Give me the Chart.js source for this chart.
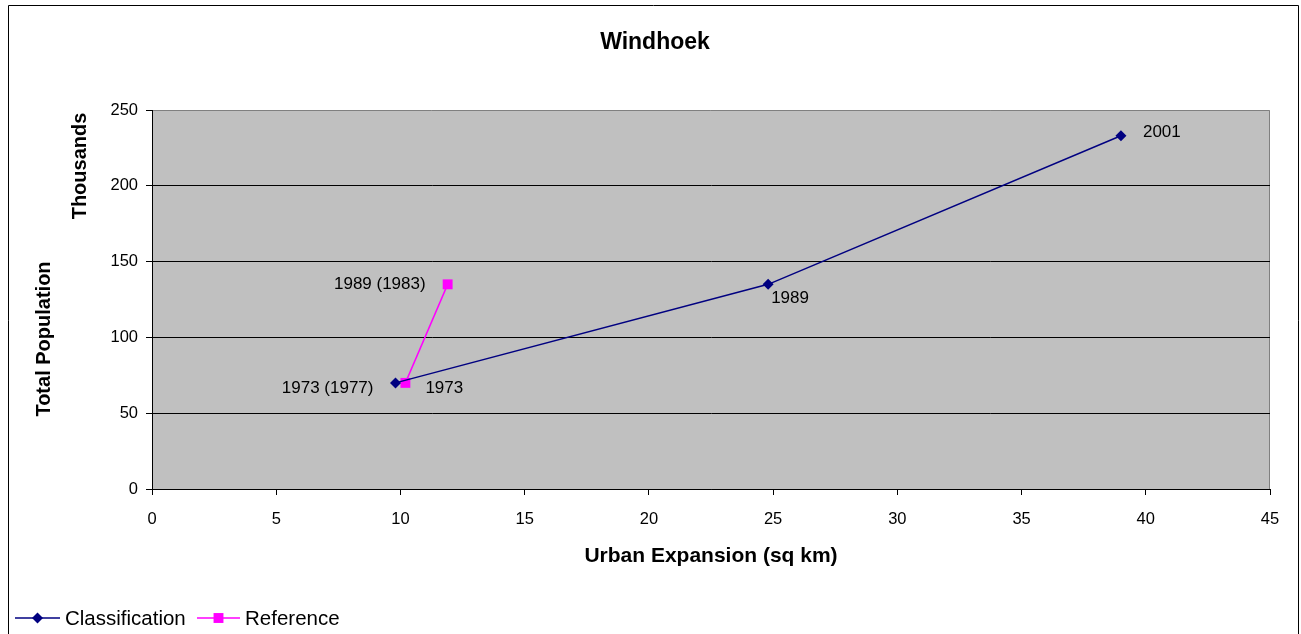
<!DOCTYPE html>
<html lang="en">
<head>
    <meta charset="UTF-8">
    <title>Windhoek</title>
    <script src="https://cdn.jsdelivr.net/npm/chart.js"></script>
    <style>
        html, body { margin: 0; padding: 0; background: #fff; }
        #wrap { width: 1301px; height: 634px; }
    </style>
</head>
<body>
<div id="wrap"><canvas id="windhoek"></canvas></div>
<script>
    // urban area (sq km) vs population (thousands)
    const classExpansion = [9.8, 24.8, 39.0];
    const classPopulation = [70, 135, 233];
    const classLabels = ['1973 (1977)', '1989', '2001'];

    const refExpansion = [10.2, 11.9];
    const refPopulation = [70, 135];
    const refLabels = ['1973', '1989 (1983)'];

    const xTicks = [0, 5, 10, 15, 20, 25, 30, 35, 40, 45];
    const yTicks = [0, 50, 100, 150, 200, 250];

    const FONT = '"Liberation Sans", Arial, sans-serif';
    const NAVY = '#000080';
    const MAGENTA = '#FF00FF';

    function toPoints(xs, ys) {
        return xs.map((x, i) => ({ x: x, y: ys[i] }));
    }

    // label offsets from the point (dx, dy, align) - hand placed like in the original
    const labelPlacement = [
        [[-22, 5, 'right'], [3, 14, 'left'], [22, -3, 'left']],
        [[20, 5, 'left'], [-22, 0, 'right']]
    ];
    const labelTexts = [classLabels, refLabels];

    const decor = {
        id: 'decor',
        beforeDraw(chart) {
            const c = chart.ctx, a = chart.chartArea;
            c.save();
            c.fillStyle = '#C0C0C0';
            c.fillRect(a.left, a.top, a.right - a.left, a.bottom - a.top);
            c.strokeStyle = '#808080';
            c.lineWidth = 1;
            c.beginPath();
            c.moveTo(a.left, a.top + 0.5);
            c.lineTo(a.right - 0.5, a.top + 0.5);
            c.lineTo(a.right - 0.5, a.bottom);
            c.stroke();
            c.restore();
        },
        afterDraw(chart) {
            const c = chart.ctx, a = chart.chartArea;
            c.save();
            // outer frame
            c.strokeStyle = '#000';
            c.lineWidth = 1;
            c.beginPath();
            c.moveTo(8.5, 640);
            c.lineTo(8.5, 5.5);
            c.lineTo(1298.5, 5.5);
            c.lineTo(1298.5, 640);
            c.stroke();

            c.fillStyle = '#000';
            c.textBaseline = 'middle';
            c.textAlign = 'center';
            c.font = 'bold 23px ' + FONT;
            c.fillText('Windhoek', 655, 43);

            c.font = 'bold 21px ' + FONT;
            c.fillText('Urban Expansion (sq km)', (a.left + a.right) / 2, 556);

            // y titles
            c.font = 'bold 20px ' + FONT;
            c.save();
            c.translate(44, 339);
            c.rotate(-Math.PI / 2);
            c.fillText('Total Population', 0, 0);
            c.restore();
            c.save();
            c.translate(80, 166);
            c.rotate(-Math.PI / 2);
            c.fillText('Thousands', 0, 0);
            c.restore();

            // data labels
            c.font = '17px ' + FONT;
            chart.data.datasets.forEach((ds, di) => {
                const meta = chart.getDatasetMeta(di);
                meta.data.forEach((pt, i) => {
                    const p = labelPlacement[di][i];
                    c.textAlign = p[2];
                    c.fillText(labelTexts[di][i], pt.x + p[0], pt.y + p[1]);
                });
            });

            // legend
            const items = [
                { text: 'Classification', color: NAVY, style: 'rectRot', r: 5.5, x0: 15, x1: 60, tx: 65 },
                { text: 'Reference', color: MAGENTA, style: 'rect', r: 7, x0: 197, x1: 240, tx: 245 }
            ];
            c.font = '20.5px ' + FONT;
            c.textAlign = 'left';
            items.forEach(it => {
                c.strokeStyle = it.color;
                c.lineWidth = 1.5;
                c.beginPath();
                c.moveTo(it.x0, 618);
                c.lineTo(it.x1, 618);
                c.stroke();
                c.fillStyle = it.color;
                Chart.helpers.drawPoint(c, { pointStyle: it.style, radius: it.r, borderWidth: 0 }, (it.x0 + it.x1) / 2, 618);
                c.fillStyle = '#000';
                c.fillText(it.text, it.tx, 619);
            });
            c.restore();
        }
    };

    new Chart(document.getElementById('windhoek'), {
        type: 'scatter',
        data: {
            datasets: [{
                label: 'Classification',
                data: toPoints(classExpansion, classPopulation),
                showLine: true,
                borderColor: NAVY,
                backgroundColor: NAVY,
                borderWidth: 1.5,
                pointStyle: 'rectRot',
                pointRadius: 5.5,
                pointBorderWidth: 0
            }, {
                label: 'Reference',
                data: toPoints(refExpansion, refPopulation),
                showLine: true,
                borderColor: MAGENTA,
                backgroundColor: MAGENTA,
                borderWidth: 1.5,
                pointStyle: 'rect',
                pointRadius: 7,
                pointBorderWidth: 0
            }]
        },
        options: {
            responsive: true,
            maintainAspectRatio: false,
            animation: false,
            layout: { padding: { left: 0, right: 31, top: 110, bottom: 0 } },
            plugins: {
                legend: { display: false },
                title: { display: false },
                tooltip: { enabled: false }
            },
            scales: {
                x: {
                    type: 'linear',
                    min: 0, max: 45,
                    afterBuildTicks: s => { s.ticks = xTicks.map(v => ({ value: v })); },
                    afterFit: s => { s.height = 145; },
                    ticks: { color: '#000', font: { family: FONT, size: 16.5 }, padding: 15, maxRotation: 0 },
                    grid: { drawOnChartArea: false, color: '#000', tickLength: 6, tickColor: '#000' },
                    border: { color: '#000', width: 1 }
                },
                y: {
                    min: 0, max: 250,
                    afterBuildTicks: s => { s.ticks = yTicks.map(v => ({ value: v })); },
                    afterFit: s => { s.width = 152; },
                    ticks: { color: '#000', font: { family: FONT, size: 16.5 }, padding: 8 },
                    grid: {
                        color: ctx => (ctx.tick && ctx.tick.value === 250) ? 'rgba(0,0,0,0)' : '#000',
                        tickColor: '#000',
                        tickLength: 6
                    },
                    border: { color: '#000', width: 1 }
                }
            }
        },
        plugins: [decor]
    });
</script>
</body>
</html>
